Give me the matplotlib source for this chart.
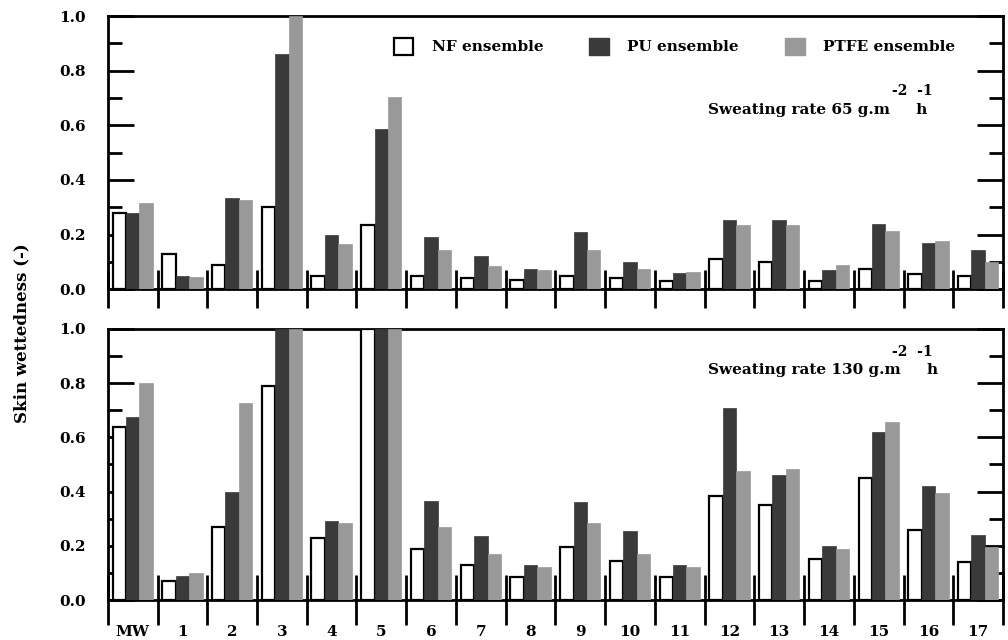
import numpy as np
import matplotlib.pyplot as plt
from matplotlib.patches import Patch

plt.rcParams['font.family'] = ['DejaVu Serif']
plt.rcParams['font.weight'] = 'bold'

groups = ['MW'] + [str(i) for i in range(1, 18)]

# sweating rate 65 g.m-2 h-1
nf_65 = [0.28, 0.13, 0.09, 0.30, 0.05, 0.235, 0.05, 0.04, 0.035, 0.05,
         0.04, 0.03, 0.11, 0.10, 0.03, 0.075, 0.055, 0.05]
pu_65 = [0.28, 0.05, 0.335, 0.86, 0.20, 0.585, 0.19, 0.12, 0.075, 0.21,
         0.10, 0.06, 0.255, 0.255, 0.07, 0.24, 0.17, 0.145]
ptfe_65 = [0.315, 0.045, 0.325, 1.0, 0.165, 0.705, 0.145, 0.085, 0.07, 0.145,
           0.075, 0.065, 0.235, 0.235, 0.09, 0.215, 0.175, 0.10]

# sweating rate 130 g.m-2 h-1
nf_130 = [0.64, 0.07, 0.27, 0.79, 0.23, 1.0, 0.19, 0.13, 0.085, 0.195,
          0.145, 0.085, 0.385, 0.35, 0.15, 0.45, 0.26, 0.14]
pu_130 = [0.675, 0.09, 0.40, 1.0, 0.29, 1.0, 0.365, 0.235, 0.13, 0.36,
          0.255, 0.13, 0.71, 0.46, 0.20, 0.62, 0.42, 0.24]
ptfe_130 = [0.80, 0.10, 0.725, 1.0, 0.285, 1.0, 0.27, 0.17, 0.12, 0.285,
            0.17, 0.12, 0.475, 0.485, 0.19, 0.655, 0.395, 0.195]

dark = '#3a3a3a'
light = '#999999'

fig = plt.figure(figsize=(10.08, 6.4), dpi=100)
ax1 = fig.add_axes([0.107, 0.548, 0.888, 0.427])
ax2 = fig.add_axes([0.107, 0.0625, 0.888, 0.4235])

x = np.arange(len(groups))
w = 0.27


def draw(ax, nf, pu, ptfe, label, sup, ytxt, ysup, bottom):
    ax.bar(x - w, nf, w, color='white', edgecolor='black', linewidth=1.6, zorder=3)
    ax.bar(x, pu, w, color=dark, edgecolor=dark, linewidth=0.5, zorder=3)
    ax.bar(x + w, ptfe, w, color=light, edgecolor=light, linewidth=0.5, zorder=3)
    ax.set_xlim(-0.5, len(groups) - 0.5)
    ax.set_ylim(0, 1.0)
    ax.set_yticks(np.arange(0, 1.01, 0.2))
    ax.set_yticklabels(['%.1f' % v for v in np.arange(0, 1.01, 0.2)])
    ax.set_yticks(np.arange(0.1, 1.0, 0.2), minor=True)
    ax.tick_params(axis='y', which='major', direction='in', length=19, width=2,
                   left=True, right=True, pad=16, labelsize=11)
    ax.tick_params(axis='y', which='minor', direction='in', length=10, width=2,
                   left=True, right=True)
    # group separators on the x axis
    ax.set_xticks(np.arange(-0.5, len(groups), 1.0))
    ax.set_xticklabels([])
    ax.set_xticks(x, minor=True)
    if bottom:
        ax.tick_params(axis='x', which='major', direction='inout', length=36, width=2)
        ax.set_xticklabels(groups, minor=True)
        ax.tick_params(axis='x', which='minor', length=0, pad=18, labelsize=11)
    else:
        ax.tick_params(axis='x', which='major', direction='inout', length=28, width=2)
        ax.tick_params(axis='x', which='minor', length=0)
    for s in ax.spines.values():
        s.set_linewidth(2)
    ax.text(0.67, ytxt, label, transform=ax.transAxes,
            fontsize=11, ha='left', va='center')
    ax.text(0.876, ysup, sup, transform=ax.transAxes,
            fontsize=10, ha='left', va='center')


draw(ax1, nf_65, pu_65, ptfe_65, 'Sweating rate 65 g.m     h', '-2  -1',
     0.656, 0.725, False)
draw(ax2, nf_130, pu_130, ptfe_130, 'Sweating rate 130 g.m     h', '-2  -1',
     0.849, 0.915, True)

handles = [Patch(facecolor='white', edgecolor='black', linewidth=1.6),
           Patch(facecolor=dark, edgecolor=dark),
           Patch(facecolor=light, edgecolor=light)]
ax1.legend(handles, ['NF ensemble', 'PU ensemble', 'PTFE ensemble'], ncol=3,
           loc='upper right', bbox_to_anchor=(0.962, 0.97), frameon=False,
           handlelength=1.3, handleheight=1.3, columnspacing=3.0,
           handletextpad=1.2, fontsize=11)

fig.text(0.022, 0.48, 'Skin wettedness (-)', rotation=90, ha='center',
         va='center', fontsize=12)

fig.savefig('out.png', dpi=100)
